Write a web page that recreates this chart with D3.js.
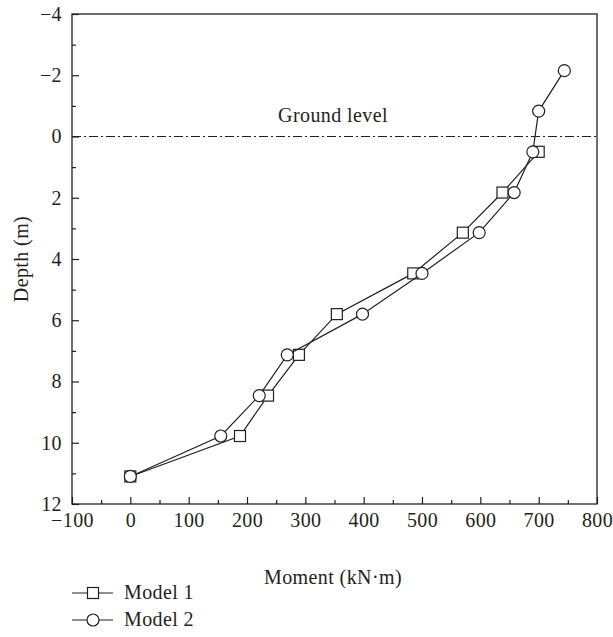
<!DOCTYPE html>
<html>
<head>
<meta charset="utf-8">
<script src="https://cdn.jsdelivr.net/npm/d3@7"></script>
<style>
  body { margin: 0; background: #fff; }
  text { font-family: "Liberation Serif", "DejaVu Serif", serif; fill: #231f20; letter-spacing: 0.4px; }
</style>
</head>
<body>
<svg id="chart" width="613" height="637"></svg>
<script>
// Bending moment along the pile for two models
const depths1 = [11.1, 9.78, 8.46, 7.13, 5.8, 4.47, 3.14, 1.83, 0.5];
const moment1 = [0, 188, 236, 289, 354, 485, 570, 638, 700];
const depths2 = [11.1, 9.78, 8.46, 7.13, 5.8, 4.47, 3.14, 1.83, 0.5, -0.83, -2.15];
const moment2 = [0, 155, 221, 269, 398, 500, 598, 658, 690, 700, 744];
const seriesNames = ["Model 1", "Model 2"];
const xTicks = [-100, 0, 100, 200, 300, 400, 500, 600, 700, 800];
const yTicks = [-4, -2, 0, 2, 4, 6, 8, 10, 12];
const groundLabel = "Ground level";

const svg = d3.select("#chart");
const m = { left: 72, top: 14, right: 597, bottom: 504 };
const ink = "#231f20";
const fs = 20;

const x = d3.scaleLinear().domain([-100, 800]).range([m.left, m.right]);
const y = d3.scaleLinear().domain([-4, 12]).range([m.top, m.bottom]);
const fmt = v => (v < 0 ? "\u2212" + Math.abs(v) : String(v));

// Frame
svg.append("rect")
  .attr("x", m.left).attr("y", m.top)
  .attr("width", m.right - m.left).attr("height", m.bottom - m.top)
  .attr("fill", "none").attr("stroke", ink).attr("stroke-width", 1.3);

// Bottom axis: inward ticks, minor every 50
const xAxis = d3.axisBottom(x).tickValues(xTicks).tickFormat(fmt).tickSizeInner(-7).tickSizeOuter(0).tickPadding(9);
const gx = svg.append("g").attr("transform", `translate(0,${m.bottom})`).call(xAxis);
gx.attr("font-size", null).attr("font-family", null);
gx.select(".domain").remove();
gx.selectAll("line").attr("stroke", ink).attr("stroke-width", 1.2);
gx.selectAll("text").attr("font-size", fs).attr("fill", ink);
const gxm = svg.append("g").attr("transform", `translate(0,${m.bottom})`)
  .call(d3.axisBottom(x).tickValues(d3.range(-50, 800, 100)).tickFormat("").tickSizeInner(-4).tickSizeOuter(0));
gxm.select(".domain").remove();
gxm.selectAll("line").attr("stroke", ink).attr("stroke-width", 1.2);

// Left axis
const yAxis = d3.axisLeft(y).tickValues(yTicks).tickFormat(fmt).tickSizeInner(-7).tickSizeOuter(0).tickPadding(10);
const gy = svg.append("g").attr("transform", `translate(${m.left},0)`).call(yAxis);
gy.attr("font-size", null).attr("font-family", null);
gy.select(".domain").remove();
gy.selectAll("line").attr("stroke", ink).attr("stroke-width", 1.2);
gy.selectAll("text").attr("font-size", fs).attr("fill", ink);
const gym = svg.append("g").attr("transform", `translate(${m.left},0)`)
  .call(d3.axisLeft(y).tickValues(d3.range(-3, 12, 2)).tickFormat("").tickSizeInner(-4).tickSizeOuter(0));
gym.select(".domain").remove();
gym.selectAll("line").attr("stroke", ink).attr("stroke-width", 1.2);

// Axis titles
svg.append("text").attr("x", 333).attr("y", 584)
  .attr("text-anchor", "middle").attr("font-size", fs).text("Moment (kN\u00b7m)");
svg.append("text").attr("transform", `translate(28,${(m.top + m.bottom) / 2}) rotate(-90)`)
  .attr("text-anchor", "middle").attr("font-size", fs).text("Depth (m)");

// Ground level line
svg.append("line")
  .attr("x1", m.left).attr("x2", m.right).attr("y1", y(0)).attr("y2", y(0))
  .attr("stroke", ink).attr("stroke-width", 1.1).attr("stroke-dasharray", "9,3,2,3");
svg.append("text").attr("x", 333).attr("y", y(0) - 15)
  .attr("text-anchor", "middle").attr("font-size", fs).text(groundLabel);

// Series
const line = d3.line().x(d => x(d[0])).y(d => y(d[1]));
const pts1 = moment1.map((v, i) => [v, depths1[i]]);
const pts2 = moment2.map((v, i) => [v, depths2[i]]);

function drawSquare(g, cx, cy) {
  g.append("rect").attr("x", cx - 5.5).attr("y", cy - 5.5).attr("width", 11).attr("height", 11)
    .attr("fill", "#fff").attr("stroke", ink).attr("stroke-width", 1.2);
}
function drawCircle(g, cx, cy) {
  g.append("circle").attr("cx", cx).attr("cy", cy).attr("r", 6)
    .attr("fill", "#fff").attr("stroke", ink).attr("stroke-width", 1.2);
}

const g1 = svg.append("g");
g1.append("path").datum(pts1).attr("d", line).attr("fill", "none").attr("stroke", ink).attr("stroke-width", 1.2);
const g2 = svg.append("g");
g2.append("path").datum(pts2).attr("d", line).attr("fill", "none").attr("stroke", ink).attr("stroke-width", 1.2);
pts2.forEach(p => drawCircle(g2, x(p[0]), y(p[1])));
pts1.forEach(p => drawSquare(g1, x(p[0]), y(p[1])));

// Legend
const legend = svg.append("g");
const legendY = [599, 626];
[drawSquare, drawCircle].forEach((fn, i) => {
  const ly = legendY[i] - 6;
  legend.append("line").attr("x1", 72).attr("x2", 113).attr("y1", ly).attr("y2", ly)
    .attr("stroke", ink).attr("stroke-width", 1.2);
  fn(legend, 93, ly);
  legend.append("text").attr("x", 124).attr("y", legendY[i]).attr("font-size", fs).text(seriesNames[i]);
});
</script>
</body>
</html>
